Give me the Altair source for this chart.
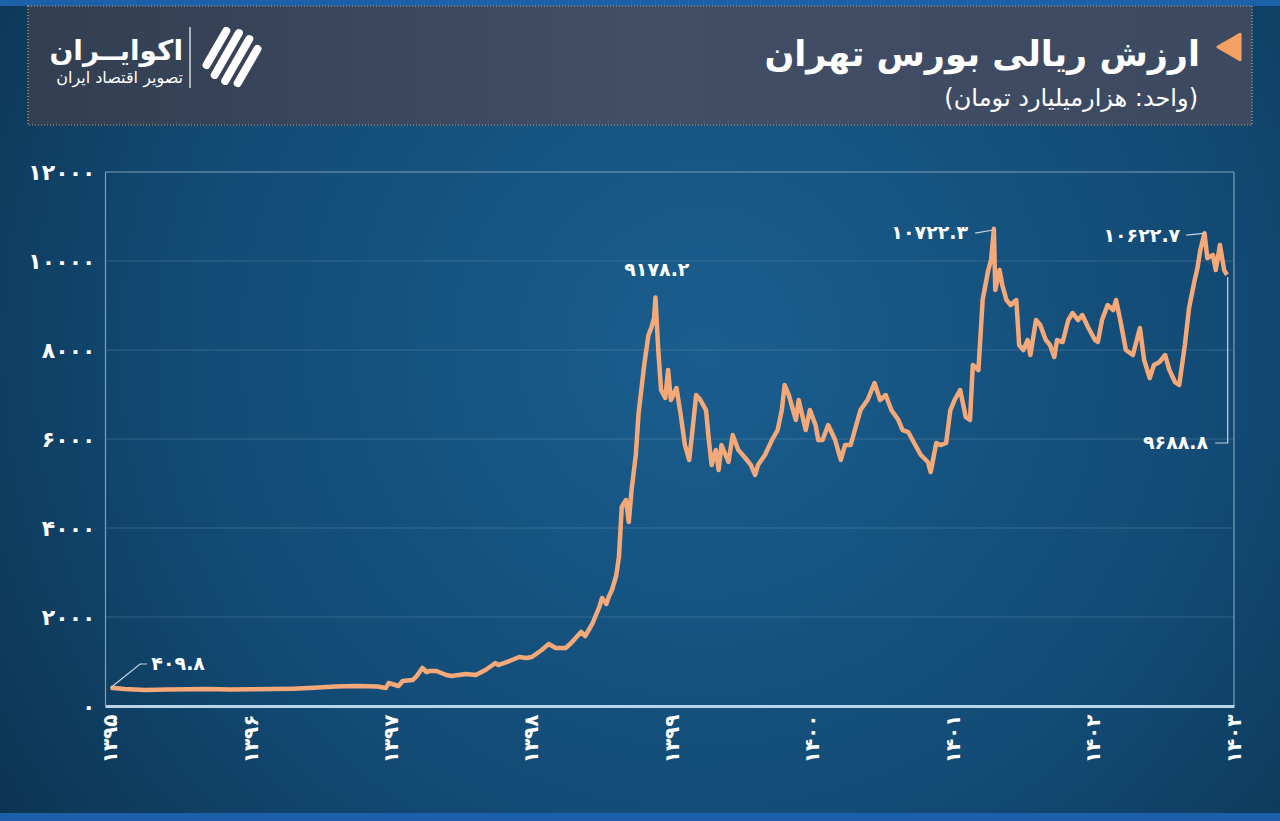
import altair as alt
import pandas as pd

# ---------------- data ----------------
YEARS = [1395.00, 1395.10, 1395.25, 1395.40, 1395.55, 1395.70, 1395.85, 1396.00, 1396.15, 1396.30,
         1396.45, 1396.60, 1396.75, 1396.90, 1396.96, 1396.98, 1397.05, 1397.08, 1397.15, 1397.18,
         1397.22, 1397.25, 1397.27, 1397.32, 1397.39, 1397.43, 1397.53, 1397.60, 1397.67, 1397.74,
         1397.76, 1397.84, 1397.91, 1397.96, 1398.00, 1398.07, 1398.12, 1398.17, 1398.24, 1398.28,
         1398.35, 1398.38, 1398.43, 1398.48, 1398.50, 1398.53, 1398.55, 1398.57, 1398.60, 1398.62,
         1398.64, 1398.67, 1398.69, 1398.71, 1398.74, 1398.76, 1398.80, 1398.83, 1398.85, 1398.87,
         1398.88, 1398.90, 1398.92, 1398.95, 1398.97, 1398.99, 1399.03, 1399.06, 1399.09, 1399.12,
         1399.14, 1399.17, 1399.20, 1399.24, 1399.26, 1399.28, 1399.31, 1399.33, 1399.35, 1399.40,
         1399.43, 1399.47, 1399.52, 1399.56, 1399.59, 1399.61, 1399.66, 1399.71, 1399.75, 1399.78,
         1399.80, 1399.83, 1399.88, 1399.90, 1399.95, 1399.98, 1400.02, 1400.04, 1400.07, 1400.11,
         1400.16, 1400.20, 1400.23, 1400.27, 1400.30, 1400.34, 1400.39, 1400.44, 1400.48, 1400.52,
         1400.56, 1400.61, 1400.64, 1400.68, 1400.73, 1400.77, 1400.82, 1400.84, 1400.88, 1400.91,
         1400.95, 1400.98, 1401.01, 1401.05, 1401.09, 1401.12, 1401.14, 1401.18, 1401.21, 1401.25,
         1401.27, 1401.29, 1401.30, 1401.33, 1401.35, 1401.38, 1401.41, 1401.45, 1401.47, 1401.50,
         1401.53, 1401.55, 1401.59, 1401.62, 1401.66, 1401.69, 1401.72, 1401.74, 1401.78, 1401.82,
         1401.85, 1401.89, 1401.92, 1401.96, 1402.01, 1402.03, 1402.06, 1402.10, 1402.14, 1402.16,
         1402.19, 1402.23, 1402.28, 1402.33, 1402.36, 1402.40, 1402.43, 1402.47, 1402.51, 1402.54,
         1402.58, 1402.61, 1402.65, 1402.68, 1402.72, 1402.74, 1402.76, 1402.79, 1402.81, 1402.85,
         1402.87, 1402.90, 1402.93, 1402.95]
VALUES = [409.8, 380, 360, 370, 375, 380, 370, 375, 380, 390,
          410, 440, 450, 440, 404, 517, 449, 562, 584, 674,
          854, 764, 786, 786, 697, 674, 719, 697, 809, 966,
          921, 1011, 1101, 1079, 1101, 1258, 1393, 1303, 1303, 1416,
          1663, 1573, 1843, 2225, 2427, 2292, 2472, 2607, 2921, 3348,
          4472, 4629, 4134, 4854, 5640, 6584, 7662, 8336, 8494, 8718,
          9178.2, 8000, 7100, 6921, 7550, 6876, 7145, 6539, 5865, 5528,
          6089, 6988, 6876, 6651, 5977, 5415, 5752, 5303, 5865, 5483,
          6089, 5752, 5573, 5415, 5191, 5415, 5640, 5977, 6202, 6651,
          7213, 6988, 6426, 6876, 6202, 6651, 6314, 5977, 5977, 6314,
          5977, 5528, 5865, 5865, 6202, 6651, 6876, 7258, 6876, 6988,
          6651, 6426, 6202, 6157, 5865, 5640, 5483, 5258, 5910, 5865,
          5910, 6651, 6876, 7100, 6494, 6426, 7662, 7550, 9123, 9797,
          10022, 10722.3, 9348, 9797, 9460, 9123, 9011, 9123, 8112, 8000,
          8224, 7887, 8673, 8561, 8224, 8112, 7842, 8224, 8179, 8673,
          8831, 8673, 8786, 8516, 8224, 8179, 8673, 9011, 8898, 9123,
          8673, 8000, 7887, 8494, 7775, 7370, 7662, 7730, 7887, 7550,
          7280, 7213, 8112, 8943, 9572, 9842, 10246, 10622.7, 10067, 10134,
          9797, 10359, 9797, 9688.8]

TICK_YEARS = [1395, 1396, 1397, 1398, 1399, 1400, 1401, 1402, 1403]
Y_TICKS = [0, 2000, 4000, 6000, 8000, 10000, 12000]
GRID_VALUES = [2000, 4000, 6000, 8000, 10000]

# annotations
ANN_TEXT = ["۴۰۹.۸", "۹۱۷۸.۲", "۱۰۷۲۲.۳", "۱۰۶۲۲.۷", "۹۶۸۸.۸"]
ANN_X = [1395.29, 1398.89, 1401.107, 1402.617, 1402.816]
ANN_Y = [944, 9797, 10628, 10561, 5910]
ANN_ALIGN = ["left", "center", "right", "right", "right"]

# leader lines (grouped)
LEAD_ID = [1, 1, 1, 2, 2, 3, 3, 4, 4, 4]
LEAD_ORD = [0, 1, 2, 0, 1, 0, 1, 0, 1, 2]
LEAD_X = [1395.0, 1395.21, 1395.26, 1401.157, 1401.285, 1402.66, 1402.80, 1402.866, 1402.955, 1402.955]
LEAD_Y = [409.8, 944, 944, 10628, 10696, 10583, 10628, 5910, 5910, 9640]

TITLE = "ارزش ریالی بورس تهران"
SUBTITLE = "\u200f(واحد: هزارمیلیارد تومان)\u200f"
LOGO = "اکوایــران"
LOGO_SUB = "تصویر اقتصاد ایران"

FA = "۰۱۲۳۴۵۶۷۸۹"


def fa_expr(e):
    for d in range(10):
        e = f"replace({e}, regexp('{d}', 'g'), '{FA[d]}')"
    return e


W, H = 1129, 534
PL, PT = 105, 172
FONT = "DejaVu Sans"

df = pd.DataFrame({"year": YEARS, "value": VALUES})
ann = pd.DataFrame({"x": ANN_X, "y": ANN_Y, "t": ANN_TEXT, "a": ANN_ALIGN})
lead = pd.DataFrame({"id": LEAD_ID, "o": LEAD_ORD, "x": LEAD_X, "y": LEAD_Y})
grid = pd.DataFrame({"g": GRID_VALUES})
one = pd.DataFrame({"k": [0]})

xs = alt.Scale(domain=[1394.96, 1403.0], nice=False, zero=False)
ys = alt.Scale(domain=[0, 12000], nice=False)

x_axis = alt.Axis(values=TICK_YEARS, labelExpr=fa_expr("toString(datum.value)"),
                  labelAngle=270, labelAlign="right", labelBaseline="middle",
                  labelFontSize=20, labelFontWeight="bold", labelColor="white",
                  labelFont=FONT, labelPadding=8, ticks=False, grid=False,
                  domainColor="#b9d5ea", domainWidth=3, title=None, zindex=1)
y_axis = alt.Axis(values=Y_TICKS, labelExpr=fa_expr("toString(datum.value)"),
                  labelFontSize=22, labelFontWeight="bold", labelColor="white",
                  labelFont=FONT, labelPadding=10, ticks=False, grid=False,
                  domainColor="#7f9fb8", domainWidth=1.2, title=None, zindex=1)


def px(v):
    return alt.value(v)


# background
bg = alt.Chart(one).mark_rect(
    color=alt.Gradient(
        gradient="radial",
        stops=[alt.GradientStop(color="#1a5e8e", offset=0),
               alt.GradientStop(color="#124a74", offset=0.55),
               alt.GradientStop(color="#0a2c46", offset=1)],
        x1=0.55, y1=0.45, x2=0.55, y2=0.45, r1=0, r2=0.75)
).encode(x=px(-PL), x2=px(1280 - PL), y=px(-PT), y2=px(821 - PT))

topbar = alt.Chart(one).mark_rect(color="#1b60a8").encode(
    x=px(-PL), x2=px(1280 - PL), y=px(-PT), y2=px(6 - PT))
botbar = alt.Chart(one).mark_rect(color="#1b60a8").encode(
    x=px(-PL), x2=px(1280 - PL), y=px(813 - PT), y2=px(821 - PT))

header = alt.Chart(one).mark_rect(
    color=alt.Gradient(gradient="linear",
                       stops=[alt.GradientStop(color="#323e51", offset=0),
                              alt.GradientStop(color="#414e66", offset=0.5),
                              alt.GradientStop(color="#3c4960", offset=1)],
                       x1=0, x2=1, y1=0, y2=0),
    stroke="#c9a46a", strokeDash=[1, 2], strokeWidth=1.2
).encode(x=px(28 - PL), x2=px(1252 - PL), y=px(6 - PT), y2=px(125 - PT))

title = alt.Chart(one).mark_text(
    text=TITLE, font=FONT, fontWeight="bold", fontSize=35, color="white",
    align="right", baseline="alphabetic"
).encode(x=px(1200 - PL), y=px(66 - PT))

subtitle = alt.Chart(one).mark_text(
    text=SUBTITLE, font=FONT, fontSize=24, color="white",
    align="right", baseline="alphabetic"
).encode(x=px(1198 - PL), y=px(106 - PT))

tri = alt.Chart(one).mark_point(
    shape="triangle-left", filled=True, color="#f4a264", size=650, opacity=1,
    strokeJoin="round", stroke="#f4a264", strokeWidth=3
).encode(x=px(1229 - PL), y=px(47 - PT))

logo = alt.Chart(one).mark_text(
    text=LOGO, font=FONT, fontWeight="bold", fontSize=28, color="white",
    align="right", baseline="alphabetic"
).encode(x=px(183 - PL), y=px(60 - PT))

logo_sub = alt.Chart(one).mark_text(
    text=LOGO_SUB, font=FONT, fontSize=16, color="white",
    align="right", baseline="alphabetic"
).encode(x=px(183 - PL), y=px(83 - PT))

divider = alt.Chart(one).mark_rule(color="white", strokeWidth=1.2).encode(
    x=px(190 - PL), y=px(27 - PT), y2=px(88 - PT))

# logo icon: slanted stripes
ICON = [(99.4, -103.2, 123.4, -144.8), (107.1, -92.5, 136.5, -143.5),
        (117.5, -86.5, 146.9, -137.5), (130.6, -85.2, 154.6, -126.8)]
icon_layers = []
for (ax, ay, bx, by) in ICON:
    mx, my = (ax + bx) / 2, (ay + by) / 2
    k = 0.82
    icon_layers.append(
        alt.Chart(one).mark_rule(color="white", strokeWidth=8, strokeCap="round").encode(
            x=px(mx + (ax - mx) * k), y=px(my + (ay - my) * k),
            x2=px(mx + (bx - mx) * k), y2=px(my + (by - my) * k)))

# grid lines and frame
gridlines = alt.Chart(grid).mark_rule(color="#7fa8c8", opacity=0.3, strokeWidth=1).encode(
    y=alt.Y("g:Q", scale=ys, axis=y_axis), x=px(0), x2=px(W))
frame_top = alt.Chart(one).mark_rule(color="#7f9fb8", strokeWidth=1.2).encode(
    x=px(0), x2=px(W), y=px(0))
frame_right = alt.Chart(one).mark_rule(color="#7f9fb8", strokeWidth=1.2).encode(
    x=px(W), y=px(0), y2=px(H))

# main line
line = alt.Chart(df).mark_line(color="#f5a878", strokeWidth=4.5, strokeJoin="round").encode(
    x=alt.X("year:Q", scale=xs, axis=x_axis),
    y=alt.Y("value:Q", scale=ys, axis=y_axis),
)

leaders = alt.Chart(lead).mark_line(color="#c8d4de", strokeWidth=1.2).encode(
    x=alt.X("x:Q", scale=xs, axis=x_axis), y=alt.Y("y:Q", scale=ys, axis=y_axis),
    detail="id:N", order="o:Q")

ann_layers = []
for a in ["left", "center", "right"]:
    ann_layers.append(
        alt.Chart(ann).transform_filter(f"datum.a == '{a}'").mark_text(
            font=FONT, fontWeight="bold", fontSize=19, color="white", align=a, baseline="middle"
        ).encode(x=alt.X("x:Q", scale=xs, axis=x_axis), y=alt.Y("y:Q", scale=ys, axis=y_axis),
                 text="t:N"))

chart = alt.layer(
    bg, topbar, botbar, header, title, subtitle, tri, logo, logo_sub, divider,
    *icon_layers, gridlines, frame_top, frame_right, line, leaders, *ann_layers
).properties(
    width=W, height=H,
    padding={"left": PL, "top": PT, "right": 1280 - PL - W, "bottom": 821 - PT - H},
    autosize=alt.AutoSizeParams(type="none"),
    background="#0b2f4a",
).configure_view(stroke=None)

chart.save("out.html", embed_options={"renderer": "svg", "actions": False})
